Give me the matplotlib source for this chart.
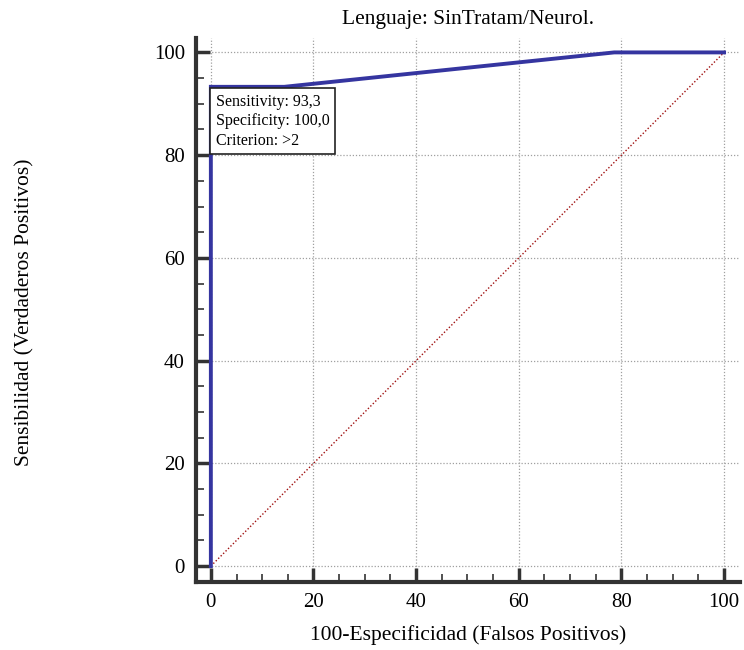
import matplotlib
matplotlib.use("Agg")
import matplotlib.pyplot as plt
from matplotlib.ticker import MultipleLocator

plt.rcParams['font.family'] = ['Liberation Serif', 'DejaVu Serif']

# ROC curve coordinates (100-specificity, sensitivity)
fpr = [0, 0, 14.3, 78.6, 100]
tpr = [0, 93.3, 93.3, 100, 100]
diag_x = [0, 100]
diag_y = [0, 100]
ticks = [0, 20, 40, 60, 80, 100]

title = "Lenguaje: SinTratam/Neurol."
xlabel = "100-Especificidad (Falsos Positivos)"
ylabel = "Sensibilidad (Verdaderos Positivos)"
box_text = "Sensitivity: 93,3\nSpecificity: 100,0\nCriterion: >2"

fig = plt.figure(figsize=(7.44, 6.5), dpi=100)
ax = fig.add_axes([0.2634, 0.1046, 0.7312, 0.8369])

ax.set_xlim(-2.9, 103.1)
ax.set_ylim(-3.1, 102.8)

ax.grid(True, which='major', color='#a0a0a0', linestyle=(0, (1, 1.5)), linewidth=0.9)
ax.plot(diag_x, diag_y, color='#a01010', linestyle=(0, (1, 1.5)), linewidth=1.0, zorder=2)
ax.plot(fpr, tpr, color='#3535a0', linewidth=2.8, zorder=3, solid_joinstyle='miter')

ax.set_xticks(ticks)
ax.set_yticks(ticks)
ax.xaxis.set_minor_locator(MultipleLocator(5))
ax.yaxis.set_minor_locator(MultipleLocator(5))
ax.tick_params(which='major', direction='in', length=10, width=2.5, color='#333333',
               labelsize=15, pad=8)
ax.tick_params(which='minor', direction='in', length=6, width=1.2, color='#333333')

for side in ('top', 'right'):
    ax.spines[side].set_visible(False)
for side in ('left', 'bottom'):
    ax.spines[side].set_linewidth(3)
    ax.spines[side].set_color('#333333')

ax.set_title(title, fontsize=15.5, pad=10)
ax.set_xlabel(xlabel, fontsize=15.5, labelpad=9)
fig.text(0.034, 0.52, ylabel, rotation=90, fontsize=15.5, va='center', ha='center')

ax.text(1.0, 92.0, box_text, fontsize=11.5, va='top', ha='left', linespacing=1.3,
        bbox=dict(boxstyle='square,pad=0.35', facecolor='white', edgecolor='#222222',
                  linewidth=1.2), zorder=4)

fig.savefig("out.png", dpi=100)
